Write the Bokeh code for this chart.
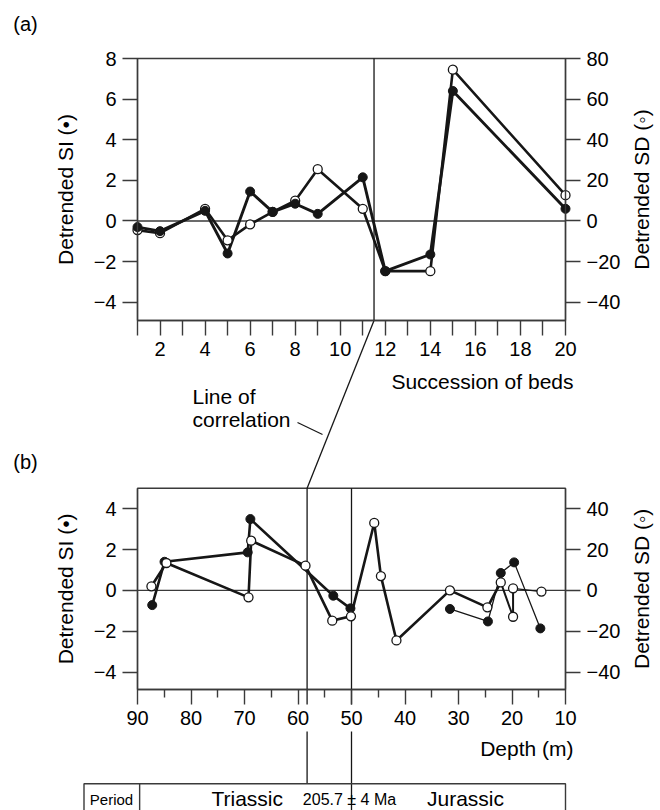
import math
from bokeh.plotting import figure
from bokeh.models import Range1d, LinearAxis, FixedTicker, Label, CustomJSTickFormatter
from bokeh.embed import file_html
from bokeh.resources import INLINE

# ---------------- data ----------------
# Panel (a): succession of beds
beds_si = [1, 2, 4, 5, 6, 7, 8, 9, 11, 12, 14, 15, 20]
si_a = [-0.3, -0.5, 0.5, -1.6, 1.45, 0.45, 0.85, 0.35, 2.15, -2.47, -1.65, 6.4, 0.6]
beds_sd = [1, 2, 4, 5, 6, 7, 8, 9, 11, 12, 14, 15, 20]
sd_a = [-4.5, -6.0, 6.0, -9.5, -1.7, 4.5, 10.0, 25.5, 6.0, -24.7, -24.7, 74.5, 12.7]
correlation_bed = 11.5

# Panel (b): depth section
depth_si_1 = [87.25, 84.95, 69.4, 68.9, 53.4, 50.2]
si_b_1 = [-0.72, 1.4, 1.86, 3.49, -0.26, -0.88]
depth_si_2 = [31.6, 24.5, 22.1, 19.6, 14.7]
si_b_2 = [-0.91, -1.52, 0.85, 1.37, -1.86]
depth_sd = [87.4, 84.6, 69.25, 68.75, 58.6, 53.6, 50.1, 45.75, 44.5, 41.6, 31.6, 24.6, 22.1, 19.8, 19.8, 14.5]
sd_b = [2.0, 13.4, -3.4, 24.3, 12.1, -14.8, -12.7, 33.0, 7.0, -24.5, 0.0, -8.3, 3.9, -12.9, 1.0, -0.6]
correlation_depth = 58.3
boundary_depth = 50.0

# ticks
a_x_major = [2, 4, 6, 8, 10, 12, 14, 16, 18, 20]
a_x_minor = [1, 3, 5, 7, 9, 11, 13, 15, 17, 19]
a_si_ticks = [-4, -2, 0, 2, 4, 6, 8]
a_sd_ticks = [-40, -20, 0, 20, 40, 60, 80]
b_x_major = [90, 80, 70, 60, 50, 40, 30, 20, 10]
b_x_minor = [85, 75, 65, 55, 45, 35, 25, 15]
b_si_ticks = [-4, -2, 0, 2, 4]
b_sd_ticks = [-40, -20, 0, 20, 40]

# texts
period_label = "Period"
period_names = ["Triassic", "Jurassic"]
boundary_age = "205.7 \u00b1 4 Ma"

# ---------------- layout / style ----------------
FONT = "Liberation Sans"
INK = "#161616"
FRAME = "#3a3a3a"
W, H = 660, 810
A_LEFT, A_RIGHT, A_TOP, A_BOTTOM = 137, 565, 58, 320
B_LEFT, B_RIGHT, B_TOP, B_BOTTOM = 137, 565, 487.7, 689
XA_LIM = (1, 20)
YA_LIM = (-4.9, 8.0)
XB_LIM = (90, 10)
YB_LIM = (-4.85, 5.0)
SD_FACTOR = 10
TABLE_TOP = 783.3
TABLE_LEFT_DEPTH, TABLE_DIV_DEPTH = 100.0, 89.6
LABEL_GAP = (704, 731)


def page_range(lo, hi, p_lo, p_hi, total):
    s = (p_hi - p_lo) / (hi - lo)
    return Range1d(start=lo - p_lo / s, end=lo + (total - p_lo) / s)


def to_px(v, lo, hi, p_lo, p_hi):
    return p_lo + (v - lo) * (p_hi - p_lo) / (hi - lo)


p = figure(width=W, height=H, x_range=Range1d(0, W), y_range=Range1d(H, 0),
           x_axis_type=None, y_axis_type=None, min_border=0,
           toolbar_location=None, output_backend="svg",
           outline_line_color=None, background_fill_color="white",
           border_fill_color="white")

p.extra_x_ranges = {
    "xa": page_range(XA_LIM[0], XA_LIM[1], A_LEFT, A_RIGHT, W),
    "xb": page_range(XB_LIM[0], XB_LIM[1], B_LEFT, B_RIGHT, W),
}
p.extra_y_ranges = {
    "ya": page_range(YA_LIM[0], YA_LIM[1], H - A_BOTTOM, H - A_TOP, H),
    "ya2": page_range(YA_LIM[0] * SD_FACTOR, YA_LIM[1] * SD_FACTOR, H - A_BOTTOM, H - A_TOP, H),
    "yb": page_range(YB_LIM[0], YB_LIM[1], H - B_BOTTOM, H - B_TOP, H),
    "yb2": page_range(YB_LIM[0] * SD_FACTOR, YB_LIM[1] * SD_FACTOR, H - B_BOTTOM, H - B_TOP, H),
}

fmt = CustomJSTickFormatter(code="""
const v = Math.round(tick * 100) / 100;
return v < 0 ? '\u2212' + Math.abs(v) : String(v);
""")


def add_axis(side, xr, yr, loc, bounds, ticks, minor=(), minor_len=15):
    ax = LinearAxis(x_range_name=xr, y_range_name=yr, fixed_location=loc, bounds=bounds,
                    ticker=FixedTicker(ticks=list(ticks), minor_ticks=list(minor)),
                    formatter=fmt)
    ax.axis_line_color = FRAME
    ax.axis_line_width = 1.4
    ax.major_tick_in = 0
    ax.major_tick_out = 15
    ax.minor_tick_in = 0
    ax.minor_tick_out = minor_len
    ax.major_tick_line_color = FRAME
    ax.major_tick_line_width = 1.4
    ax.minor_tick_line_color = FRAME
    ax.minor_tick_line_width = 1.4
    ax.major_label_text_font = FONT
    ax.major_label_text_font_size = "20px"
    ax.major_label_text_color = "black"
    ax.major_label_standoff = 6
    p.add_layout(ax, side)


# panel (a) axes
add_axis("below", "xa", "ya", YA_LIM[0], XA_LIM, a_x_major, a_x_minor, 15)
add_axis("left", "xa", "ya", XA_LIM[0], YA_LIM, a_si_ticks)
add_axis("right", "xa", "ya2", XA_LIM[1], (YA_LIM[0] * SD_FACTOR, YA_LIM[1] * SD_FACTOR), a_sd_ticks)
# panel (b) axes
add_axis("below", "xb", "yb", YB_LIM[0], (min(XB_LIM), max(XB_LIM)), b_x_major, b_x_minor, 8)
add_axis("left", "xb", "yb", XB_LIM[0], YB_LIM, b_si_ticks)
add_axis("right", "xb", "yb2", XB_LIM[1], (YB_LIM[0] * SD_FACTOR, YB_LIM[1] * SD_FACTOR), b_sd_ticks)

# frames and zero lines
p.quad(left=XA_LIM[0], right=XA_LIM[1], bottom=YA_LIM[0], top=YA_LIM[1],
       x_range_name="xa", y_range_name="ya", fill_color=None, line_color=FRAME, line_width=1.4)
p.quad(left=XB_LIM[0], right=XB_LIM[1], bottom=YB_LIM[0], top=YB_LIM[1],
       x_range_name="xb", y_range_name="yb", fill_color=None, line_color=FRAME, line_width=1.4)
p.segment(x0=[XA_LIM[0]], x1=[XA_LIM[1]], y0=[0], y1=[0], x_range_name="xa", y_range_name="ya",
          line_color=FRAME, line_width=1.3)
p.segment(x0=[XB_LIM[0]], x1=[XB_LIM[1]], y0=[0], y1=[0], x_range_name="xb", y_range_name="yb",
          line_color=FRAME, line_width=1.3)

# correlation lines
p.segment(x0=[correlation_bed], x1=[correlation_bed], y0=[YA_LIM[0]], y1=[YA_LIM[1]],
          x_range_name="xa", y_range_name="ya", line_color=INK, line_width=1.3)
ax0 = to_px(correlation_bed, XA_LIM[0], XA_LIM[1], A_LEFT, A_RIGHT)
bx0 = to_px(correlation_depth, XB_LIM[0], XB_LIM[1], B_LEFT, B_RIGHT)
p.segment(x0=[ax0], x1=[bx0], y0=[A_BOTTOM], y1=[B_TOP], line_color=INK, line_width=1.3)
for d, end in [(correlation_depth, TABLE_TOP), (boundary_depth, H + 10)]:
    p.segment(x0=[d, d], x1=[d, d], y0=[B_TOP, LABEL_GAP[1]], y1=[LABEL_GAP[0], end],
              x_range_name="xb", line_color=INK, line_width=1.3)

# leader for "Line of correlation"
t = 0.68
lx = ax0 + (bx0 - ax0) * t
ly = A_BOTTOM + (B_TOP - A_BOTTOM) * t
p.segment(x0=[lx - 31], x1=[lx - 6], y0=[ly - 12], y1=[ly], line_color=INK, line_width=1.2)

# table
p.quad(left=TABLE_LEFT_DEPTH, right=XB_LIM[1], top=TABLE_TOP, bottom=H + 10,
       x_range_name="xb", fill_color=None, line_color=FRAME, line_width=1.4)
p.segment(x0=[TABLE_DIV_DEPTH], x1=[TABLE_DIV_DEPTH], y0=[TABLE_TOP], y1=[H + 10],
          x_range_name="xb", line_color=FRAME, line_width=1.4)

THICK, MID, THIN = 2.6, 2.0, 1.3

# panel (a) data
p.line(beds_sd, sd_a, x_range_name="xa", y_range_name="ya2", line_color=INK, line_width=THICK)
p.line(beds_si, si_a, x_range_name="xa", y_range_name="ya", line_color=INK, line_width=THICK + 0.3)
p.scatter(beds_sd, sd_a, x_range_name="xa", y_range_name="ya2", size=9,
          fill_color="white", line_color=INK, line_width=1.3)
p.scatter(beds_si, si_a, x_range_name="xa", y_range_name="ya", size=9,
          fill_color=INK, line_color=INK, line_width=1.0)


# panel (b) data: per-segment widths
def seg_line(xs, ys, widths, yr):
    p.segment(x0=xs[:-1], x1=xs[1:], y0=ys[:-1], y1=ys[1:], x_range_name="xb", y_range_name=yr,
              line_color=INK, line_width=widths, line_cap="round")


sd_widths = [THICK] * (len(depth_sd) - 4) + [MID, MID, THIN]
si1_widths = [THICK] * (len(depth_si_1) - 1)
si2_widths = [THIN] * (len(depth_si_2) - 1)
seg_line(depth_sd, sd_b, sd_widths, "yb2")
seg_line(depth_si_1, si_b_1, si1_widths, "yb")
seg_line(depth_si_2, si_b_2, si2_widths, "yb")
p.scatter(depth_si_1 + depth_si_2, si_b_1 + si_b_2, x_range_name="xb", y_range_name="yb", size=9,
          fill_color=INK, line_color=INK, line_width=1.0)
p.scatter(depth_sd, sd_b, x_range_name="xb", y_range_name="yb2", size=9,
          fill_color="white", line_color=INK, line_width=1.3)


# ---------------- texts ----------------
def label(x, y, text, size=21, align="center", angle=0.0):
    p.add_layout(Label(x=x, y=y, text=text, text_font=FONT, text_font_size=f"{size}px",
                       text_color="black", text_align=align, text_baseline="middle", angle=angle))


label(25, 23, "(a)", 20)
label(25, 461, "(b)", 20)
label(65, (A_TOP + A_BOTTOM) / 2, "Detrended SI (\u2022)", 21, angle=math.pi / 2)
label(641, (A_TOP + A_BOTTOM) / 2, "Detrended SD (\u25e6)", 21, angle=math.pi / 2)
label(65, (B_TOP + B_BOTTOM) / 2, "Detrended SI (\u2022)", 21, angle=math.pi / 2)
label(641, (B_TOP + B_BOTTOM) / 2, "Detrended SD (\u25e6)", 21, angle=math.pi / 2)
label(573, 381, "Succession of beds", 21, align="right")
label(573, 748, "Depth (m)", 21, align="right")
label(192, 396, "Line of", 21, align="left")
label(192, 419, "correlation", 21, align="left")
label(111, 799, period_label, 15)
label(246.7, 798, period_names[0], 21)
label(465, 798, period_names[1], 21)
label(349, 799, boundary_age, 16)

open("out.html", "w").write(file_html(p, INLINE))
